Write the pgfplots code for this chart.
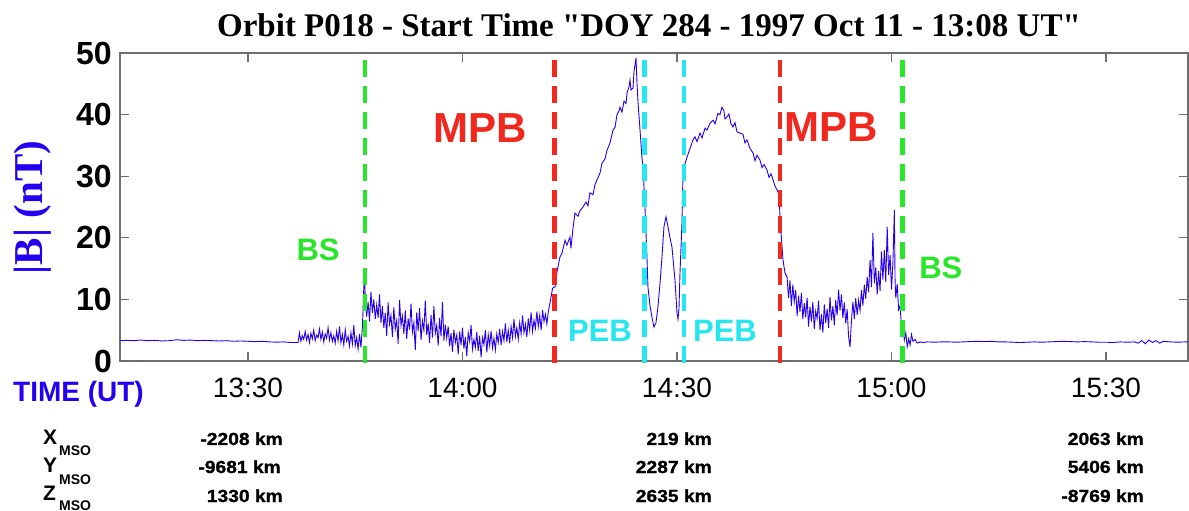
\documentclass[border=0pt]{standalone}
\usepackage{fontspec}
\setmainfont{Liberation Serif}
\newfontfamily\arial{Liberation Sans}
\newfontfamily\arialw{Liberation Sans}[FakeStretch=1.1, FakeBold=1.2]
\usepackage{pgfplots}
\pgfplotsset{compat=1.18}
\definecolor{bblue}{RGB}{36,0,240}
\definecolor{bsgreen}{RGB}{40,230,40}
\definecolor{mpbred}{RGB}{240,40,30}
\definecolor{pebcyan}{RGB}{40,230,240}
\definecolor{framegray}{RGB}{110,110,110}
\begin{document}
\begin{tikzpicture}
\useasboundingbox (0bp,0bp) rectangle (1189bp,511bp);
\begin{axis}[
  at={(120bp,150bp)}, anchor=south west,
  width=1068bp, height=308bp, scale only axis,
  xmin=12.1, xmax=161.47, ymin=0, ymax=50,
  xtick={30,60,90,120,150}, xticklabels={13:30,14:00,14:30,15:00,15:30},
  ytick={0,10,20,30,40,50},
  tick align=inside, major tick length=9bp,
  axis line style={framegray, line width=1.2bp},
  every tick/.style={framegray, line width=1.2bp},
  xticklabel style={font=\arial\fontsize{28bp}{30bp}\selectfont, inner sep=0pt, anchor=north, yshift=-17bp},
  yticklabel style={font=\arial\bfseries\fontsize{32bp}{34bp}\selectfont, inner sep=0pt, anchor=east, xshift=-8bp},
  /pgf/number format/assume math mode=true,
  clip=false,
]
\addplot[bblue, line width=0.9bp] coordinates {
(12.1,3.3)(13,3.35)(14,3.3)(15,3.4)(16,3.3)(17,3.35)(18,3.25)(19,3.3)(20,3.45)(21,3.35)(22,3.4)(23,3.3)(24,3.35)(25,3.3)(26,3.25)(27,3.3)(28,3.2)(29,3.25)(30,3.2)(31,3.15)(32,3.2)(33,3.1)(34,3.05)(35,3.1)(36,3.0)(36.9,3.0)
(37.0,3.0)(37.2,4.6)(37.4,3.2)(37.6,4.1)(37.8,3.5)(38.0,4.8)(38.2,3.4)(38.4,4.3)(38.6,3.0)(38.8,4.5)(39.0,3.6)(39.2,5.0)(39.4,3.3)(39.6,4.2)(39.8,3.8)(40.0,5.2)(40.2,3.5)(40.4,4.7)(40.6,3.1)(40.8,4.4)(41.0,3.7)(41.2,5.4)(41.4,3.4)(41.6,4.6)(41.8,3.2)(42.0,4.1)(42.2,2.9)(42.4,4.8)(42.6,3.3)(42.8,5.6)(43.0,3.0)(43.2,4.3)(43.4,2.6)(43.6,5.1)(43.8,3.2)(44.0,4.0)(44.2,2.4)(44.4,4.6)(44.6,2.8)(44.8,5.8)(45.0,2.5)(45.2,3.8)(45.4,1.9)(45.6,4.4)(45.8,2.2)(46.0,5.5)(46.1,8.5)(46.2,12.0)(46.3,13.3)
(46.4,10.5)(46.6,7.2)(46.8,9.6)(47.0,6.4)(47.2,11.2)(47.4,7.8)(47.6,10.0)(47.8,6.8)(48.0,9.1)(48.2,7.0)(48.4,10.8)(48.6,6.2)
(48.8,8.9)(49.0,5.4)(49.2,7.8)(49.4,4.1)(49.6,9.5)(49.8,6.0)(50.0,7.4)(50.2,3.9)(50.4,8.7)(50.6,5.2)(50.8,6.6)(51.0,2.8)(51.2,9.9)(51.4,5.8)(51.6,7.3)(51.8,4.4)(52.0,8.2)(52.2,3.6)(52.4,6.9)(52.6,5.1)(52.8,9.3)(53.0,4.7)(53.2,6.2)(53.4,1.8)(53.6,7.9)(53.8,4.9)(54.0,8.6)(54.2,3.4)(54.4,6.5)(54.6,5.0)(54.8,9.8)(55.0,4.2)(55.2,6.1)(55.4,2.9)(55.6,7.5)(55.8,3.8)(56.0,8.9)(56.2,4.5)(56.4,5.8)(56.6,2.5)(56.8,7.0)(57.0,4.0)(57.2,9.6)(57.4,3.3)(57.6,5.9)(57.8,3.7)
(58.0,5.6)(58.2,2.4)(58.4,4.5)(58.6,1.5)(58.8,5.1)(59.0,3.0)(59.2,4.2)(59.4,1.1)(59.6,4.8)(59.8,2.6)(60.0,5.4)(60.2,2.0)(60.4,3.9)(60.6,0.8)(60.8,4.6)(61.0,3.2)(61.2,5.8)(61.4,1.9)(61.6,3.5)(61.8,2.2)(62.0,4.7)(62.2,1.6)(62.4,4.1)(62.6,0.6)(62.8,3.8)(63.0,2.7)(63.2,5.0)(63.4,1.4)(63.6,4.3)(63.8,2.5)(64.0,4.9)(64.2,2.1)(64.4,3.7)(64.6,1.8)(64.8,4.4)
(65.0,3.0)(65.2,5.2)(65.4,2.6)(65.6,4.8)(65.8,3.3)(66.0,6.1)(66.2,3.1)(66.4,5.0)(66.6,2.9)(66.8,5.6)(67.0,3.8)(67.2,6.8)(67.4,4.0)(67.6,5.4)(67.8,3.5)(68.0,6.2)(68.2,4.4)(68.4,7.4)(68.6,4.6)(68.8,6.0)(69.0,3.9)(69.2,6.9)(69.4,5.0)(69.6,7.9)(69.8,4.8)(70.0,6.6)(70.2,5.3)(70.4,8.0)(70.6,5.6)(70.8,7.4)(71.0,5.0)(71.2,8.3)(71.4,6.4)(71.6,7.6)(71.8,6.0)
(72.0,8.0)(72.2,9.2)(72.4,10.5)(72.6,11.8)(72.8,12.0)
(72.94,12.0)(73.22,14.5)(73.64,16.9)(73.92,17.5)(74.34,19.6)(74.6,18.8)(75.03,20.1)(75.17,18.3)(75.45,21.5)(75.73,24.0)(76.15,23.5)(76.43,24.4)(76.85,25.0)(77.27,25.8)(77.55,25.2)(77.83,27.3)(78.25,27.0)(78.53,28.6)(78.81,29.4)(79.23,30.5)(79.51,32.1)(79.93,32.8)(80.21,34.2)(80.63,35.4)(81.05,37.5)(81.33,37.9)(81.61,40.0)(81.89,40.6)(82.03,41.2)(82.31,40.4)(82.59,42.2)(82.87,41.8)(83.01,43.5)(83.29,44.5)(83.43,45.6)(83.57,44.0)(83.85,44.3)(83.99,47.0)(84.27,49.2)(84.41,45.0)(84.55,42.0)(84.83,37.5)(85.1,33.0)(85.25,31.5)(85.52,25.0)(85.8,16.9)(85.94,12.0)(86.22,9.0)(86.5,7.1)(86.78,5.5)(87.06,6.2)(87.34,8.8)(87.62,12.5)(87.9,16.9)(88.18,21.8)(88.46,23.4)(88.74,21.8)(89.02,20.0)(89.3,18.5)(89.72,13.1)(90.0,7.8)(90.14,6.8)(90.28,8.5)(90.42,14.3)(90.7,22.4)(90.84,30.5)(91.12,32.0)(91.4,33.1)(91.82,34.5)(92.24,35.9)(92.52,36.4)(92.8,35.6)(93.22,37.0)(93.5,36.2)(93.92,37.8)(94.2,37.5)(94.62,38.6)(95.04,39.1)(95.32,38.5)(95.73,40.2)(96.01,40.0)(96.29,41.2)(96.57,40.6)(96.71,39.3)(96.99,39.6)(97.27,40.1)(97.55,38.5)(97.83,38.0)(98.11,38.7)(98.39,37.2)(98.81,37.0)(99.23,36.8)(99.51,35.4)(99.79,35.9)(100.21,34.5)(100.63,33.8)(100.91,32.5)(101.19,33.4)(101.61,32.6)(101.89,31.4)(102.17,31.9)(102.59,31.0)(102.87,29.8)(103.15,30.4)(103.43,29.4)(103.71,28.4)(103.99,27.8)(104.27,27.0)(104.41,23.4)(104.69,18.5)(104.83,16.4)(105.1,14.3)(105.4,13.6)
(105.6,10.2)(105.8,13.1)(106.0,8.9)(106.2,12.4)(106.4,9.6)(106.6,11.5)(106.8,7.3)(107.0,10.6)(107.2,8.0)(107.4,11.0)(107.6,6.8)(107.8,9.4)(108.0,7.1)(108.2,10.3)(108.4,5.6)(108.6,8.8)(108.8,6.4)(109.0,9.6)(109.2,5.2)(109.4,8.1)(109.6,6.9)(109.8,9.8)(110.0,5.0)(110.2,7.6)(110.4,4.6)(110.6,9.2)(110.8,6.2)(111.0,8.5)(111.2,5.4)(111.4,10.4)(111.6,6.6)(111.8,8.9)(112.0,5.8)(112.2,9.9)(112.4,7.4)(112.6,11.6)(112.8,8.2)(113.0,10.8)(113.2,7.0)(113.4,9.5)(113.6,6.1)(113.8,8.4)(114.0,3.9)(114.2,2.3)(114.4,6.5)(114.6,9.6)(114.8,6.8)(115.0,10.2)(115.2,7.5)(115.4,9.9)(115.6,8.2)(115.8,11.5)(116.0,9.0)(116.2,12.4)(116.4,10.1)(116.6,13.6)(116.8,11.2)(117.0,16.4)(117.2,12.0)(117.4,20.8)(117.6,12.6)(117.8,15.2)(118.0,10.8)(118.2,14.6)(118.4,11.4)(118.6,17.8)(118.8,13.2)(119.0,18.0)(119.2,12.8)(119.4,21.8)(119.6,14.0)(119.8,17.2)(120.0,11.6)(120.2,16.0)(120.4,24.5)(120.5,13.0)(120.6,10.2)(120.8,12.5)(121.0,8.3)(121.2,9.0)(121.4,5.5)(121.6,6.2)(121.8,3.4)(122.0,4.6)(122.2,2.3)(122.4,3.6)(122.6,2.6)(122.8,4.3)(123.0,3.2)(123.3,3.5)(123.6,2.9)(124.0,3.1)(124.4,3.0)
(125,3.1)(126,3.05)(127,3.1)(128,3.1)(129,3.05)(130,3.1)(131,3.15)(132,3.2)(133,3.15)(134,3.2)(135,3.1)(136,3.1)(137,3.05)(138,3.0)(139,3.05)(140,3.1)(141,3.05)(142,3.1)(143,3.15)(144,3.2)(145,3.15)(146,3.1)(147,3.15)(148,3.1)(149,3.05)(150,3.05)(151,3.0)(152,3.1)(153,3.05)(154,3.1)(154.5,2.9)(155,3.3)(155.5,2.8)(156,3.4)(156.5,3.0)(157,3.3)(157.5,2.9)(158,3.2)(159,3.1)(160,3.05)(161,3.1)(161.47,3.1)
};
\addplot[bsgreen, line width=4.8bp, dash pattern=on 17bp off 9bp] coordinates {(46.36,48.9) (46.36,-0.3)};
\addplot[mpbred, line width=4.8bp, dash pattern=on 17bp off 9bp] coordinates {(72.84,48.9) (72.84,-0.3)};
\addplot[pebcyan, line width=4.8bp, dash pattern=on 17bp off 9bp] coordinates {(85.43,48.9) (85.43,-0.3)};
\addplot[pebcyan, line width=4.8bp, dash pattern=on 17bp off 9bp] coordinates {(90.98,48.9) (90.98,-0.3)};
\addplot[mpbred, line width=4.8bp, dash pattern=on 17bp off 9bp] coordinates {(104.41,48.9) (104.41,-0.3)};
\addplot[bsgreen, line width=4.8bp, dash pattern=on 17bp off 9bp] coordinates {(121.5,48.9) (121.5,-0.3)};
\node[text=bsgreen, font=\arial\bfseries\fontsize{31bp}{33bp}\selectfont, inner sep=0pt] at (axis cs:39.8,18.0) {BS};
\node[text=bsgreen, font=\arial\bfseries\fontsize{31bp}{33bp}\selectfont, inner sep=0pt] at (axis cs:126.9,15.1) {BS};
\node[text=mpbred, font=\arial\bfseries\fontsize{42bp}{44bp}\selectfont, inner sep=0pt] at (axis cs:62.45,37.8) {MPB};
\node[text=mpbred, font=\arial\bfseries\fontsize{42bp}{44bp}\selectfont, inner sep=0pt] at (axis cs:111.5,38.0) {MPB};
\node[text=pebcyan, font=\arial\bfseries\fontsize{31bp}{33bp}\selectfont, inner sep=0pt] at (axis cs:79.23,4.87) {PEB};
\node[text=pebcyan, font=\arial\bfseries\fontsize{31bp}{33bp}\selectfont, inner sep=0pt] at (axis cs:96.71,4.87) {PEB};
\end{axis}
\node[anchor=base, inner sep=0pt, font=\bfseries\fontsize{33bp}{35bp}\selectfont] at (649bp,474bp) {Orbit P018 - Start Time \textquotedbl DOY 284 - 1997 Oct 11 - 13:08 UT\textquotedbl};
\node[rotate=90, inner sep=0pt, text=bblue, font=\bfseries\fontsize{41bp}{43bp}\selectfont] at (32.5bp,303.5bp) {|B| (nT)};
\node[anchor=base west, inner sep=0pt, text=bblue, font=\arial\bfseries\fontsize{28bp}{30bp}\selectfont] at (13bp,109bp) {TIME (UT)};
\node[anchor=base west, inner sep=0pt, font=\arial\bfseries\fontsize{21bp}{23bp}\selectfont] at (43bp,66bp) {X};
\node[anchor=base west, inner sep=0pt, font=\arial\bfseries\fontsize{14bp}{16bp}\selectfont] at (59bp,55bp) {MSO};
\node[anchor=base west, inner sep=0pt, font=\arial\bfseries\fontsize{21bp}{23bp}\selectfont] at (43bp,39bp) {Y};
\node[anchor=base west, inner sep=0pt, font=\arial\bfseries\fontsize{14bp}{16bp}\selectfont] at (59bp,27bp) {MSO};
\node[anchor=base west, inner sep=0pt, font=\arial\bfseries\fontsize{21bp}{23bp}\selectfont] at (43bp,11bp) {Z};
\node[anchor=base west, inner sep=0pt, font=\arial\bfseries\fontsize{14bp}{16bp}\selectfont] at (59bp,0.8bp) {MSO};
\node[anchor=base east, inner sep=0pt, font=\arialw\bfseries\fontsize{17.5bp}{19bp}\selectfont] at (283bp,66bp) {-2208 km};
\node[anchor=base east, inner sep=0pt, font=\arialw\bfseries\fontsize{17.5bp}{19bp}\selectfont] at (281bp,38bp) {-9681 km};
\node[anchor=base east, inner sep=0pt, font=\arialw\bfseries\fontsize{17.5bp}{19bp}\selectfont] at (283bp,9bp) {1330 km};
\node[anchor=base east, inner sep=0pt, font=\arialw\bfseries\fontsize{17.5bp}{19bp}\selectfont] at (712bp,66bp) {219 km};
\node[anchor=base east, inner sep=0pt, font=\arialw\bfseries\fontsize{17.5bp}{19bp}\selectfont] at (712bp,38bp) {2287 km};
\node[anchor=base east, inner sep=0pt, font=\arialw\bfseries\fontsize{17.5bp}{19bp}\selectfont] at (712bp,9bp) {2635 km};
\node[anchor=base east, inner sep=0pt, font=\arialw\bfseries\fontsize{17.5bp}{19bp}\selectfont] at (1144bp,66bp) {2063 km};
\node[anchor=base east, inner sep=0pt, font=\arialw\bfseries\fontsize{17.5bp}{19bp}\selectfont] at (1144bp,38bp) {5406 km};
\node[anchor=base east, inner sep=0pt, font=\arialw\bfseries\fontsize{17.5bp}{19bp}\selectfont] at (1144bp,9bp) {-8769 km};
\end{tikzpicture}
\end{document}
